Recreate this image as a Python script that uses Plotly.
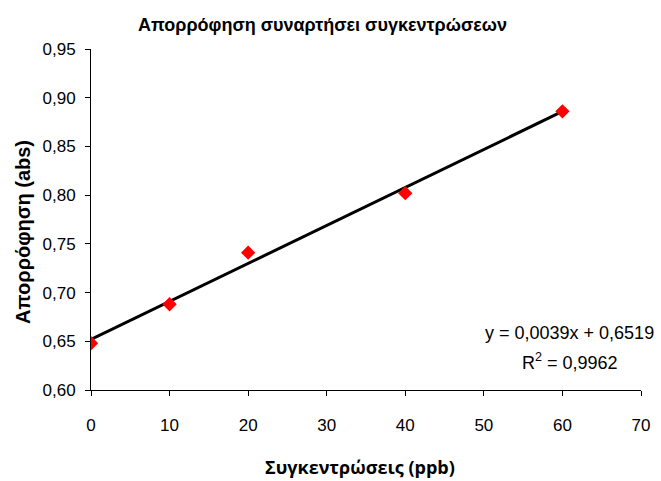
import plotly.graph_objects as go

# Calibration data: concentration (ppb) vs absorbance
concentration = [0, 10, 20, 40, 60]
absorbance = [0.648, 0.688, 0.741, 0.802, 0.886]

# Linear trendline as reported in the equation label
slope = 0.0039
intercept = 0.6519
r_squared = 0.9962
trend_x = [min(concentration), max(concentration)]
trend_y = [slope * x + intercept for x in trend_x]

x_ticks = [0, 10, 20, 30, 40, 50, 60, 70]
y_ticks = [0.60, 0.65, 0.70, 0.75, 0.80, 0.85, 0.90, 0.95]

FONT = "Liberation Sans, Arial, sans-serif"

fig = go.Figure()

fig.add_trace(go.Scatter(
    x=trend_x, y=trend_y, mode="lines",
    line=dict(color="black", width=3),
    hoverinfo="skip", showlegend=False,
))

fig.add_trace(go.Scatter(
    x=concentration, y=absorbance, mode="markers",
    marker=dict(symbol="diamond", size=11, color="#ff0000", line=dict(width=0)),
    showlegend=False,
))

fig.update_layout(
    width=661, height=481,
    margin=dict(l=91, r=11, t=49, b=91),
    paper_bgcolor="white", plot_bgcolor="white",
    separators=",.",
    font=dict(family=FONT, size=16, color="black"),
    xaxis=dict(
        range=[0, 70], tickvals=x_ticks, showgrid=False, zeroline=False,
        showline=True, linecolor="black", linewidth=1,
        ticks="outside", ticklen=5, tickcolor="black", tickwidth=1,
        ticklabelstandoff=15,
        tickfont=dict(family=FONT, size=17),
    ),
    yaxis=dict(
        range=[0.60, 0.95], tickvals=y_ticks, tickformat=".2f",
        showgrid=False, zeroline=False,
        showline=True, linecolor="black", linewidth=1,
        ticks="outside", ticklen=5, tickcolor="black", tickwidth=1,
        ticklabelstandoff=6,
        tickfont=dict(family=FONT, size=17),
    ),
    annotations=[
        dict(text="<b>Απορρόφηση συναρτήσει συγκεντρώσεων</b>",
             xref="paper", yref="paper", x=(326 - 91) / 559, y=1 + (49 - 25) / 341,
             xanchor="center", yanchor="middle", showarrow=False,
             font=dict(family=FONT, size=18)),
        dict(text="<b>Απορρόφηση (abs)</b>", textangle=-90,
             xref="paper", yref="paper", x=(22 - 91) / 559, y=(390 - 232) / 341,
             xanchor="center", yanchor="middle", showarrow=False,
             font=dict(family=FONT, size=20)),
        dict(text="<b>Συγκεντρώσεις (ppb)</b>",
             xref="paper", yref="paper", x=(364 - 91) / 559, y=(390 - 467) / 341,
             xanchor="center", yanchor="middle", showarrow=False,
             font=dict(family="Open Sans, sans-serif", size=18)),
        dict(text=f"y = {slope:.4f}x + {intercept:.4f}".replace(".", ","),
             xref="paper", yref="paper", x=(577 - 91) / 559, y=(390 - 333) / 341,
             xanchor="center", yanchor="middle", showarrow=False,
             font=dict(family=FONT, size=18)),
        dict(text=f"R<sup>2</sup> = {r_squared:.4f}".replace(".", ","),
             xref="paper", yref="paper", x=(578 - 91) / 559, y=(390 - 361) / 341,
             xanchor="center", yanchor="middle", showarrow=False,
             font=dict(family=FONT, size=18)),
    ],
)

fig.write_html("out.html")
